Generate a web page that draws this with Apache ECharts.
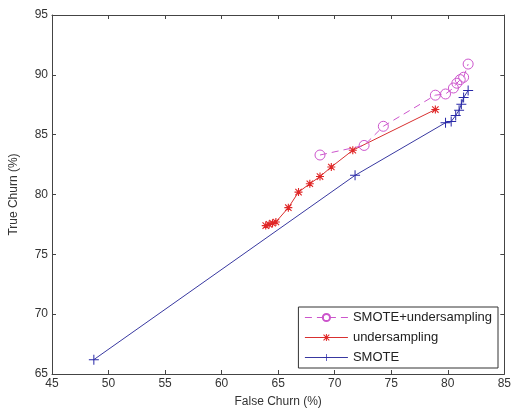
<!DOCTYPE html>
<html>
<head>
<meta charset="utf-8">
<script src="https://cdn.jsdelivr.net/npm/echarts@6/dist/echarts.min.js"></script>
<style>
  html, body { margin: 0; padding: 0; background: #fff; }
  #main { width: 514px; height: 414px; }
</style>
</head>
<body>
<div id="main"></div>
<script>
// values: [false churn, true churn]
const smoteUnder = [
  [68.7, 83.3], [72.6, 84.1], [74.3, 85.7], [78.9, 88.3], [79.8, 88.4],
  [80.5, 88.9], [80.8, 89.3], [81.1, 89.6], [81.4, 89.8], [81.8, 90.9]
];
const under = [
  [63.9, 77.4], [64.2, 77.5], [64.5, 77.6], [64.8, 77.7], [65.9, 78.9],
  [66.8, 80.2], [67.8, 80.9], [68.7, 81.5], [69.7, 82.3], [71.6, 83.7],
  [78.9, 87.1]
];
const smote = [
  [48.7, 66.2], [71.8, 81.6], [79.8, 86.0], [80.3, 86.1], [80.7, 86.6],
  [81.0, 87.05], [81.2, 87.55], [81.4, 88.1], [81.8, 88.7]
];
const seriesNames = ['SMOTE+undersampling', 'undersampling', 'SMOTE'];

const plusPath = 'path://M4.5,0H5.5V4.5H10V5.5H5.5V10H4.5V5.5H0V4.5H4.5Z';
const starPath = 'path://M4.3,0H5.7V4.3H10V5.7H5.7V10H4.3V5.7H0V4.3H4.3Z' +
  'M1.5,0.5L5,4L8.5,0.5L9.5,1.5L6,5L9.5,8.5L8.5,9.5L5,6L1.5,9.5L0.5,8.5L4,5L0.5,1.5Z';

const font = 'Liberation Sans';
const axisCol = '#444';
const magenta = '#cc55cc';

const chart = echarts.init(document.getElementById('main'));
chart.setOption({
  animation: false,
  textStyle: { fontFamily: font },
  grid: { left: 52, right: 7, top: 15, bottom: 40 },
  xAxis: [{
    type: 'value', min: 45, max: 85, interval: 5,
    name: 'False Churn (%)', nameLocation: 'middle', nameGap: 22,
    nameTextStyle: { fontSize: 12, color: '#333', fontFamily: font },
    axisLine: { show: true, lineStyle: { color: axisCol } },
    axisTick: { inside: true, length: 4, lineStyle: { color: axisCol } },
    axisLabel: { fontSize: 12, color: '#333', margin: 4, fontFamily: font },
    splitLine: { show: false }
  }, {
    type: 'value', min: 45, max: 85, interval: 5, position: 'top',
    axisLine: { show: true, lineStyle: { color: axisCol } },
    axisTick: { inside: true, length: 4, lineStyle: { color: axisCol } },
    axisLabel: { show: false }, splitLine: { show: false }
  }],
  yAxis: [{
    type: 'value', min: 65, max: 95, interval: 5,
    name: 'True Churn (%)', nameLocation: 'middle', nameGap: 32,
    nameTextStyle: { fontSize: 12, color: '#333', fontFamily: font },
    axisLine: { show: true, lineStyle: { color: axisCol } },
    axisTick: { inside: true, length: 4, lineStyle: { color: axisCol } },
    axisLabel: { fontSize: 12, color: '#333', margin: 4, fontFamily: font },
    splitLine: { show: false }
  }, {
    type: 'value', min: 65, max: 95, interval: 5, position: 'right',
    axisLine: { show: true, lineStyle: { color: axisCol } },
    axisTick: { inside: true, length: 4, lineStyle: { color: axisCol } },
    axisLabel: { show: false }, splitLine: { show: false }
  }],
  legend: {
    orient: 'vertical', right: 16, bottom: 46,
    data: seriesNames,
    backgroundColor: '#fff', borderColor: '#333', borderWidth: 1,
    padding: [4, 6, 4, 6], itemGap: 7, itemWidth: 43, itemHeight: 9,
    lineStyle: { width: 1 },
    textStyle: { fontSize: 13, color: '#222', fontFamily: font }
  },
  series: [{
    name: seriesNames[0], type: 'line', data: smoteUnder,
    symbol: 'circle', symbolSize: 10,
    lineStyle: { color: magenta, width: 1, type: [7, 5] },
    itemStyle: { color: 'rgba(255,255,255,0)', borderColor: magenta, borderWidth: 1 },
    z: 3
  }, {
    name: seriesNames[1], type: 'line', data: under,
    symbol: starPath, symbolSize: 8,
    lineStyle: { color: '#d83030', width: 1 },
    itemStyle: { color: '#e02828' },
    z: 2
  }, {
    name: seriesNames[2], type: 'line', data: smote,
    symbol: plusPath, symbolSize: 10,
    lineStyle: { color: '#3838a0', width: 1 },
    itemStyle: { color: '#2828a8' },
    z: 1
  }]
});
</script>
</body>
</html>
